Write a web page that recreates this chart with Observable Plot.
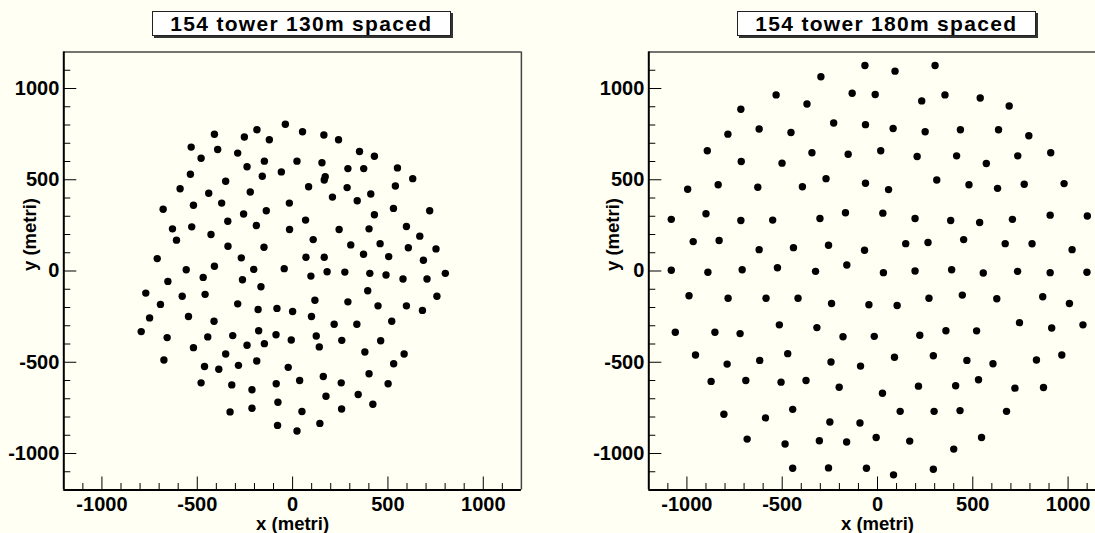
<!DOCTYPE html>
<html><head><meta charset="utf-8">
<script src="https://cdn.jsdelivr.net/npm/d3@7"></script>
<script src="https://cdn.jsdelivr.net/npm/@observablehq/plot@0.6"></script>
<style>
html,body{margin:0;padding:0;background:#fffff4;overflow:hidden;}
#wrap{position:relative;width:1095px;height:533px;overflow:hidden;background:#fffff4;font-family:"Liberation Sans",Arial,Helvetica,sans-serif;}
.panel{position:absolute;top:0;height:533px;overflow:visible;}
.panel svg{max-width:none !important;display:block;}
.title{position:absolute;box-sizing:border-box;top:10.5px;width:299px;height:25px;border:1px solid #222;background:#fff;box-shadow:2px 2px 0 #333;font-weight:bold;font-size:21px;letter-spacing:1.3px;line-height:23px;text-align:center;color:#000;white-space:nowrap;}
</style></head><body><div id="wrap"></div>
<script>
const titles = ["154 tower 130m spaced", "154 tower 180m spaced"];
const xLabel = "x (metri)";
const yLabel = "y (metri)";
const majorTicks = [-1000, -500, 0, 500, 1000];
const minorTicks = [-1100,-900,-800,-700,-600,-400,-300,-200,-100,100,200,300,400,600,700,800,900,1100];
const axisDomain = [-1200, 1200];

// tower positions (metres), 130 m spacing
const towers130 = [
[-38,804],[-410,749],[-253,734],[-187,774],[-122,719],[-532,679],[-393,666],[-288,646],[-480,618],[-239,571],
[-148,602],[-536,530],[-351,492],[-159,519],[-59,543],[-590,451],[-440,426],[-222,433],[-679,338],[-520,360],
[-372,372],[-257,312],[-138,330],[-17,372],[-630,231],[-529,242],[-340,273],[-190,249],[-16,227],[-428,200],
[-609,169],[-339,136],[-150,130],[-710,68],[-269,72],[-558,7],[-410,26],[-204,9],[-44,13],
[52,763],[164,745],[241,719],[351,655],[429,629],[23,602],[154,593],[290,561],[373,561],[550,565],
[630,506],[171,517],[166,499],[84,462],[286,457],[539,466],[209,405],[339,385],[410,422],[429,308],
[529,343],[719,330],[68,279],[244,227],[401,231],[597,244],[667,191],[108,172],[305,143],[459,150],
[607,127],[752,121],[70,75],[166,75],[372,92],[504,79],[686,59],
[-469,-35],[-654,-57],[-263,-48],[-770,-121],[-579,-138],[-459,-128],[-166,-86],[-693,-183],[-288,-180],[-181,-211],
[-82,-205],[-750,-257],[-546,-249],[-412,-275],[-794,-332],[-658,-365],[-445,-361],[-314,-354],[-178,-327],[-87,-349],
[-520,-420],[-239,-407],[-148,-398],[-351,-455],[-675,-488],[-188,-493],[-462,-523],[-387,-538],[-284,-517],[-23,-528],
[-480,-613],[-319,-624],[-213,-651],[-86,-618],[-77,-719],[-328,-772],[-213,-752],[-79,-846],
[96,-28],[181,-4],[274,-6],[405,-13],[490,-22],[579,-44],[705,-44],[801,-13],[394,-108],[757,-138],
[117,-160],[290,-169],[448,-191],[597,-191],[681,-216],[0,-222],[99,-249],[218,-292],[337,-292],[520,-275],
[-7,-378],[124,-356],[140,-416],[258,-380],[462,-382],[379,-444],[585,-455],[530,-508],[37,-600],[161,-578],
[255,-613],[401,-563],[501,-618],[175,-686],[344,-677],[421,-730],[49,-770],[257,-756],[143,-835],[23,-877]
];

// tower positions (metres), 180 m spacing
const towers180 = [
[-66,1126],[-297,1064],[-532,965],[-133,974],[-717,886],[-370,915],[-785,750],[-621,778],[-454,759],[-230,811],
[-63,802],[-893,659],[-715,600],[-501,591],[-344,648],[-154,640],[-996,448],[-836,473],[-628,459],[-394,462],
[-270,506],[-63,481],[-1082,283],[-900,314],[-717,277],[-550,279],[-302,288],[-168,319],[-967,161],[-831,167],
[-621,117],[-441,128],[-257,141],[-68,114],[-1082,4],[-890,-7],[-710,7],[-525,18],[-325,-2],[-161,33],
[92,1095],[302,1126],[-12,967],[232,932],[354,965],[539,948],[691,904],[82,781],[250,763],[435,774],
[635,774],[794,741],[17,659],[208,627],[415,631],[571,589],[736,631],[909,648],[58,446],[311,499],
[480,473],[630,453],[770,475],[979,479],[28,317],[197,288],[384,277],[536,266],[708,283],[906,306],
[1101,301],[148,150],[265,156],[452,172],[670,150],[811,149],[1021,117],[31,-9],[197,0],[389,7],
[555,-11],[735,-2],[906,-9],[1099,-7],
[-989,-136],[-784,-149],[-585,-149],[-417,-149],[-241,-178],[-45,-185],[-1061,-336],[-853,-336],[-721,-343],[-515,-295],
[-318,-310],[-181,-360],[-955,-460],[-789,-510],[-618,-490],[-471,-453],[-244,-499],[-89,-521],[-873,-605],[-691,-600],
[-506,-609],[-375,-600],[-201,-637],[-806,-785],[-588,-805],[-445,-758],[-250,-827],[-92,-833],[-684,-921],[-485,-948],
[-305,-930],[-162,-937],[-445,-1081],[-257,-1079],[-58,-1081],
[103,-189],[270,-149],[445,-132],[626,-152],[867,-141],[1007,-178],[-17,-358],[222,-352],[359,-327],[520,-328],
[745,-283],[914,-312],[1078,-295],[89,-473],[293,-464],[469,-490],[606,-508],[834,-488],[967,-460],[26,-670],
[215,-631],[410,-629],[530,-596],[721,-642],[871,-638],[119,-769],[297,-769],[433,-765],[677,-769],[-7,-912],
[169,-932],[400,-976],[546,-912],[84,-1117],[293,-1086]
];

const FONT = '"Liberation Sans", Arial, Helvetica, sans-serif';

function makePanel(points, cfg) {
  const W = cfg.width, H = 533, mT = 51.5, mB = 43.5;
  const ph = H - mT - mB, pw = W - cfg.mL - cfg.mR;
  return Plot.plot({
    width: W, height: H,
    marginTop: mT, marginBottom: mB, marginLeft: cfg.mL, marginRight: cfg.mR,
    x: {domain: axisDomain, axis: null},
    y: {domain: axisDomain, axis: null},
    style: {background: "transparent", overflow: "visible", fontFamily: FONT, maxWidth: "none"},
    marks: [
      Plot.ruleX(minorTicks, {x: d => d, stroke: "black", strokeWidth: 1, insetTop: ph - 6.5}),
      Plot.ruleX(majorTicks, {x: d => d, stroke: "black", strokeWidth: 1, insetTop: ph - 13}),
      Plot.ruleY(minorTicks, {y: d => d, stroke: "black", strokeWidth: 1, insetRight: pw - 7}),
      Plot.ruleY(majorTicks, {y: d => d, stroke: "black", strokeWidth: 1, insetRight: pw - 13}),
      Plot.ruleY([axisDomain[1]], {y: d => d, stroke: "#444", strokeWidth: 1.5}),
      Plot.ruleX([axisDomain[1]], {x: d => d, stroke: "#444", strokeWidth: 1.5}),
      Plot.ruleY([axisDomain[0]], {y: d => d, stroke: "black", strokeWidth: 2}),
      Plot.ruleX([axisDomain[0]], {x: d => d, stroke: "black", strokeWidth: 2}),
      Plot.dot(points, {x: d => d[0], y: d => d[1], r: 3.7, fill: "black"}),
      Plot.text(majorTicks, {x: d => d, frameAnchor: "bottom", lineAnchor: "top", dy: 6.5,
        text: d => String(d), fontSize: 20, fontWeight: "bold", fill: "black"}),
      Plot.text(majorTicks, {y: d => d, frameAnchor: "left", textAnchor: "end", dx: -4.5,
        text: d => String(d), fontSize: 20, fontWeight: "bold", fill: "black"}),
      Plot.text([xLabel], {frameAnchor: "bottom", lineAnchor: "top", dy: 26.5,
        text: d => d, fontSize: 18.5, fontWeight: "bold", fill: "black"}),
      Plot.text([yLabel], {frameAnchor: "left", rotate: -90, dx: cfg.yDx,
        text: d => d, fontSize: 18.5, fontWeight: "bold", fill: "black"})
    ]
  });
}

const wrap = document.getElementById("wrap");
const cfgs = [
  {left: 0, width: 560, mL: 63.3, mR: 39.1, yDx: -33.8, titleLeft: 151.8},
  {left: 560, width: 586, mL: 88.3, mR: 40.3, yDx: -35.3, titleLeft: 736.8}
];
[towers130, towers180].forEach((pts, i) => {
  const c = cfgs[i];
  const div = document.createElement("div");
  div.className = "panel";
  div.style.left = c.left + "px";
  div.style.width = c.width + "px";
  div.appendChild(makePanel(pts, c));
  wrap.appendChild(div);
  const t = document.createElement("div");
  t.className = "title";
  t.style.left = c.titleLeft + "px";
  t.textContent = titles[i];
  wrap.appendChild(t);
});
</script>
</body></html>
